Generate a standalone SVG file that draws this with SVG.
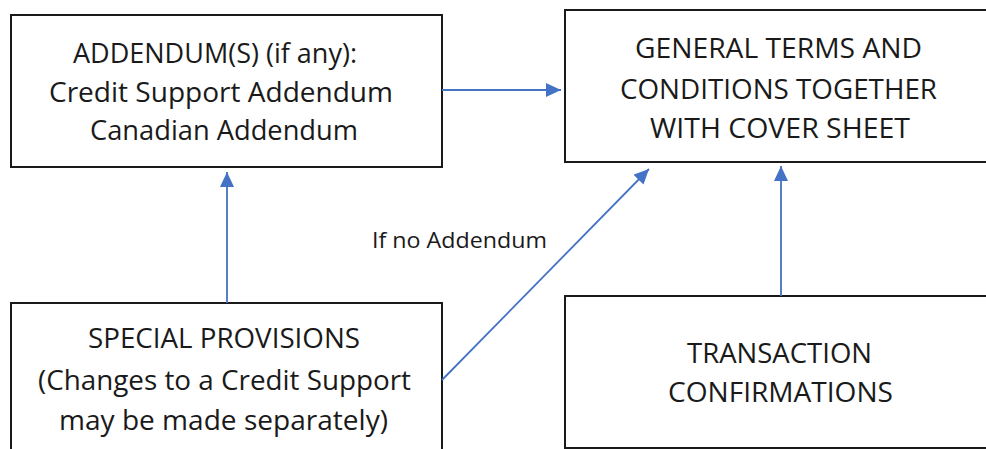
<svg xmlns="http://www.w3.org/2000/svg" width="986" height="449" viewBox="0 0 986 449">
  <style>
    .box { fill: #ffffff; stroke: #1a1a1a; stroke-width: 2; }
    .t { font-family: "Open Sans", "Liberation Sans", sans-serif; font-size: 27px; fill: #1a1a1a; }
    .lbl { font-family: "Open Sans", "Liberation Sans", sans-serif; font-size: 22px; fill: #1a1a1a; }
    .conn { stroke: #4472C4; stroke-width: 1.8; fill: none; marker-end: url(#arrow); }
  </style>
  <defs>
    <marker id="arrow" markerUnits="userSpaceOnUse" markerWidth="16" markerHeight="14" refX="15" refY="7" orient="auto">
      <path d="M0,0 L15,7 L0,14 z" fill="#4472C4"/>
    </marker>
  </defs>
  <rect width="986" height="449" fill="#ffffff"/>

  <g id="addendum">
    <rect class="box" x="11" y="15" width="431" height="152"/>
    <text class="t" x="73" y="63" textLength="284" lengthAdjust="spacingAndGlyphs">ADDENDUM(S) (if any):</text>
    <text class="t" x="49" y="102" textLength="344" lengthAdjust="spacingAndGlyphs">Credit Support Addendum</text>
    <text class="t" x="90" y="140" textLength="268" lengthAdjust="spacingAndGlyphs">Canadian Addendum</text>
  </g>

  <g id="general-terms">
    <rect class="box" x="565" y="10" width="430" height="152"/>
    <text class="t" x="635" y="58" textLength="287" lengthAdjust="spacingAndGlyphs">GENERAL TERMS AND</text>
    <text class="t" x="620" y="99" textLength="317" lengthAdjust="spacingAndGlyphs">CONDITIONS TOGETHER</text>
    <text class="t" x="650" y="138" textLength="260" lengthAdjust="spacingAndGlyphs">WITH COVER SHEET</text>
  </g>

  <g id="special-provisions">
    <rect class="box" x="11" y="303" width="431" height="160"/>
    <text class="t" x="88" y="348" textLength="272" lengthAdjust="spacingAndGlyphs">SPECIAL PROVISIONS</text>
    <text class="t" x="38" y="390" textLength="373" lengthAdjust="spacingAndGlyphs">(Changes to a Credit Support</text>
    <text class="t" x="59" y="430" textLength="329" lengthAdjust="spacingAndGlyphs">may be made separately)</text>
  </g>

  <g id="transaction-confirmations">
    <rect class="box" x="565" y="296" width="430" height="152"/>
    <text class="t" x="687" y="363" textLength="185" lengthAdjust="spacingAndGlyphs">TRANSACTION</text>
    <text class="t" x="668" y="402" textLength="225" lengthAdjust="spacingAndGlyphs">CONFIRMATIONS</text>
  </g>

  <g id="connectors">
    <line class="conn" x1="442" y1="90" x2="561" y2="90"/>
    <line class="conn" x1="227" y1="303" x2="227" y2="172"/>
    <line class="conn" x1="442" y1="380" x2="649" y2="169"/>
    <line class="conn" x1="781" y1="296" x2="781" y2="166"/>
    <text class="lbl" x="372" y="248" textLength="175" lengthAdjust="spacingAndGlyphs">If no Addendum</text>
  </g>
</svg>
